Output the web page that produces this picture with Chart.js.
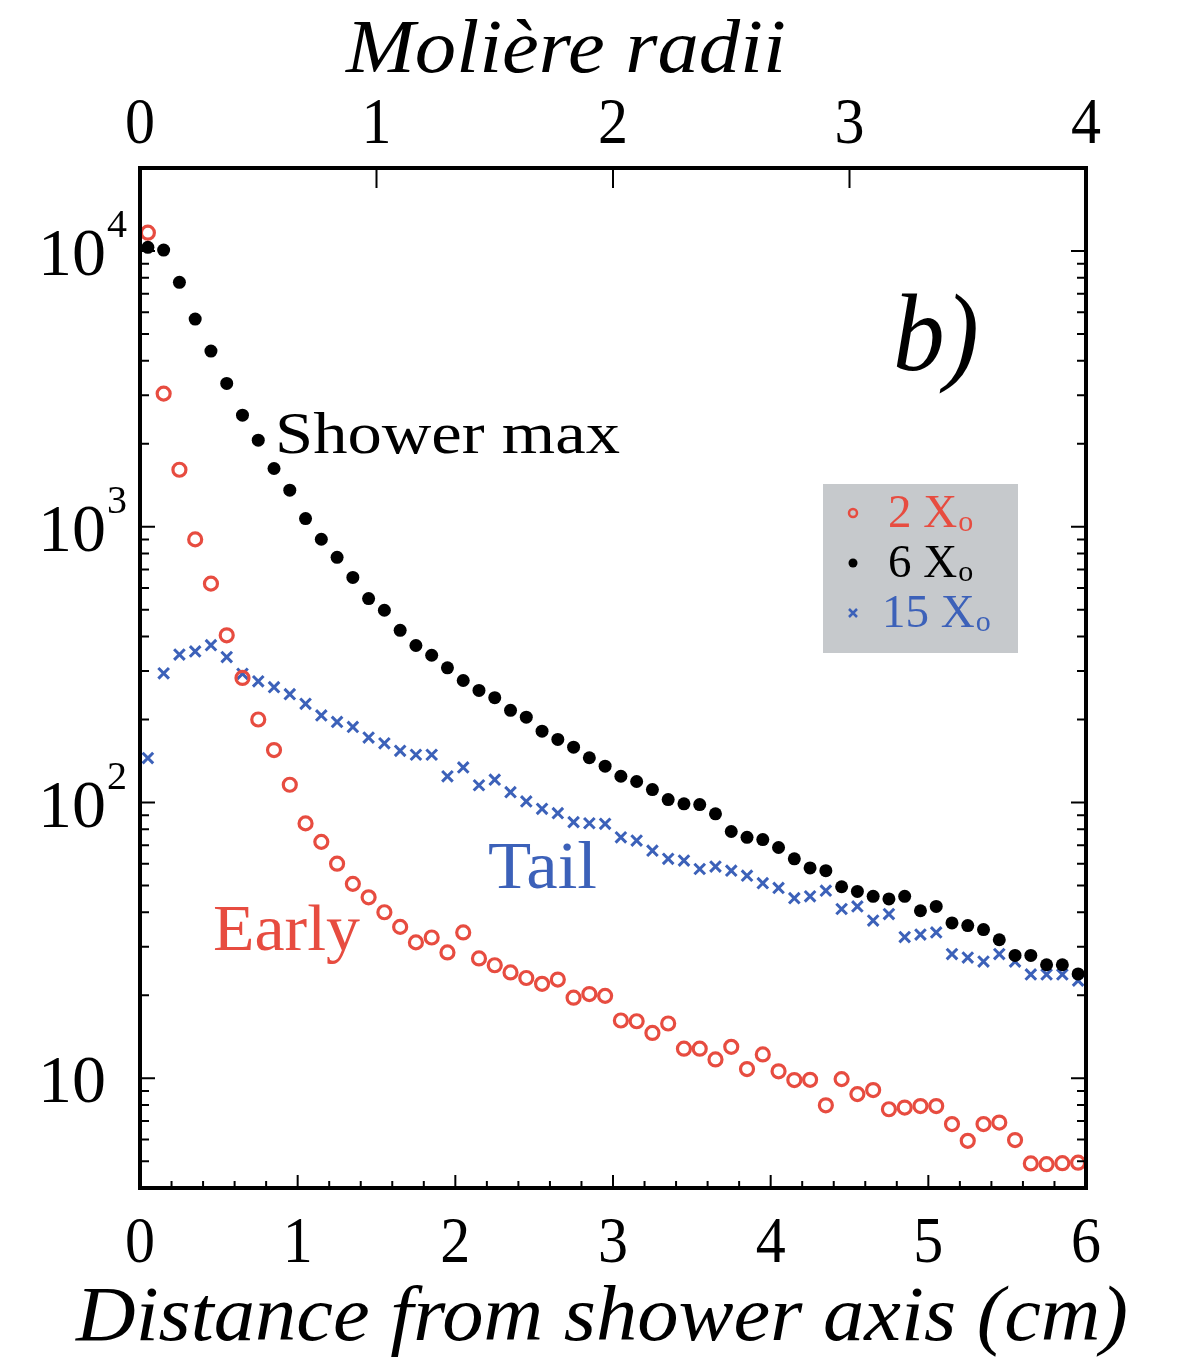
<!DOCTYPE html>
<html>
<head>
<meta charset="utf-8">
<script src="https://cdn.jsdelivr.net/npm/chart.js@4.4.1/dist/chart.umd.min.js"></script>
<style>
  html, body { margin: 0; padding: 0; background: #fff; }
  #wrap { width: 1180px; height: 1359px; }
</style>
</head>
<body>
<div id="wrap"><canvas id="profileChart" width="1180" height="1359"></canvas></div>
<script>
// radial bins (cm from shower axis)
const distanceCm = [
  0.05, 0.15, 0.25, 0.35, 0.45, 0.55, 0.65, 0.75, 0.85, 0.95,
  1.05, 1.15, 1.25, 1.35, 1.45, 1.55, 1.65, 1.75, 1.85, 1.95,
  2.05, 2.15, 2.25, 2.35, 2.45, 2.55, 2.65, 2.75, 2.85, 2.95,
  3.05, 3.15, 3.25, 3.35, 3.45, 3.55, 3.65, 3.75, 3.85, 3.95,
  4.05, 4.15, 4.25, 4.35, 4.45, 4.55, 4.65, 4.75, 4.85, 4.95,
  5.05, 5.15, 5.25, 5.35, 5.45, 5.55, 5.65, 5.75, 5.85, 5.95
];

// 2 X0 ("Early")
const early2X0 = [
  11650, 3040, 1610, 900, 622, 404, 283, 200, 155, 116,
  84, 72, 60, 50.7, 45.3, 40.0, 35.4, 31.1, 32.4, 28.6,
  33.8, 27.2, 25.7, 24.2, 23.1, 22.0, 22.8, 19.6, 20.2, 19.9,
  16.2, 16.1, 14.6, 15.8, 12.8, 12.8, 11.7, 13.0, 10.8, 12.2,
  10.6, 9.85, 9.87, 7.98, 9.93, 8.76, 9.06, 7.72, 7.83, 7.93,
  7.93, 6.82, 5.93, 6.82, 6.91, 5.97, 4.91, 4.88, 4.92, 4.94
];

// 6 X0 ("Shower max")
const showerMax6X0 = [
  10310, 10080, 7700, 5665, 4335, 3310, 2540, 2060, 1627, 1357,
  1071, 901, 775, 655, 549, 498, 421, 371, 342, 308,
  277, 255, 240, 216, 204, 181.5, 169.4, 158.8, 145.3, 135.4,
  124.5, 119.2, 111.4, 102.5, 98.9, 98.3, 91.0, 78.5, 74.8, 73.4,
  68.7, 62.5, 57.9, 56.6, 49.5, 47.6, 45.7, 44.7, 45.7, 40.5,
  42.0, 36.6, 35.8, 34.6, 31.8, 27.9, 27.9, 25.8, 25.8, 23.9
];

// 15 X0 ("Tail")
const tail15X0 = [
  145, 294, 344, 353, 372, 337, 293, 275, 262, 247,
  228, 207, 196, 188, 172, 164, 154, 149, 149, 124.5,
  134, 115.5, 121, 109, 100.9, 94.9, 91.5, 84.9, 84.1, 83.7,
  74.8, 72.8, 66.9, 62.5, 61.6, 57.4, 58.6, 56.6, 54.3, 51.0,
  49, 45, 45.7, 47.9, 41.1, 42.0, 37.3, 39.4, 32.5, 33.2,
  33.8, 28.2, 27.4, 26.5, 28.2, 26.5, 23.8, 23.8, 23.8, 22.6
];

const cmTicks = [0, 1, 2, 3, 4, 5, 6];
const moliereTicks = [0, 1, 2, 3, 4];
const decadeValues = [10, 100, 1000, 10000];
const decadeExponents = ['', '2', '3', '4'];
const legendLabels = ['2 X', '6 X', '15 X'];

const RED = '#e74c40';
const BLUE = '#3c61b9';
const BLACK = '#000';
const SERIF = '"Liberation Serif", "DejaVu Serif", serif';

function toPoints(values) {
  return values.map((v, i) => ({ x: distanceCm[i], y: v }));
}

function fitText(ctx, text, x, y, font, color, width, align) {
  ctx.save();
  ctx.font = font;
  ctx.fillStyle = color;
  ctx.textBaseline = 'alphabetic';
  ctx.textAlign = 'left';
  const w = ctx.measureText(text).width;
  const sx = width ? width / w : 1;
  let left = x;
  if (align === 'center') left = x - w * sx / 2;
  else if (align === 'right') left = x - w * sx;
  ctx.translate(left, y);
  ctx.scale(sx, 1);
  ctx.fillText(text, 0, 0);
  ctx.restore();
}

const framePlugin = {
  id: 'frame',
  afterDraw(chart) {
    const ctx = chart.ctx;
    const a = chart.chartArea;
    const xs = chart.scales.x;
    const xm = chart.scales.x2;
    const ys = chart.scales.y;

    ctx.save();
    ctx.strokeStyle = BLACK;

    // bottom ticks: 0.2 cm minor, 1 cm major
    ctx.lineWidth = 2;
    for (let k = 0; k <= 30; k++) {
      const px = xs.getPixelForValue(k * 0.2);
      const len = (k % 5 === 0) ? 13 : 7;
      ctx.beginPath();
      ctx.moveTo(px, a.bottom);
      ctx.lineTo(px, a.bottom - len);
      ctx.stroke();
    }
    // top ticks: Moliere radii
    moliereTicks.forEach(t => {
      const px = xm.getPixelForValue(t);
      ctx.beginPath();
      ctx.moveTo(px, a.top);
      ctx.lineTo(px, a.top + 20);
      ctx.stroke();
    });
    // log ticks left & right
    for (let e = 0; e <= 4; e++) {
      for (let m = 1; m <= 9; m++) {
        const v = m * Math.pow(10, e);
        if (v < ys.min || v > ys.max) continue;
        const py = ys.getPixelForValue(v);
        const len = m === 1 ? 15 : 9;
        ctx.beginPath();
        ctx.moveTo(a.left, py);
        ctx.lineTo(a.left + len, py);
        ctx.moveTo(a.right, py);
        ctx.lineTo(a.right - len, py);
        ctx.stroke();
      }
    }

    // frame
    ctx.lineWidth = 4;
    ctx.strokeRect(a.left, a.top, a.right - a.left, a.bottom - a.top);
    ctx.restore();

    // bottom tick labels
    cmTicks.forEach(t => {
      fitText(ctx, String(t), xs.getPixelForValue(t), 1262, '66px ' + SERIF, BLACK, 30, 'center');
    });
    // top tick labels
    moliereTicks.forEach(t => {
      fitText(ctx, String(t), xm.getPixelForValue(t), 143, '66px ' + SERIF, BLACK, 30, 'center');
    });
    // y labels
    decadeValues.forEach((v, i) => {
      const py = ys.getPixelForValue(v);
      fitText(ctx, '10', 106, py + 24, '68px ' + SERIF, BLACK, 68, 'right');
      if (decadeExponents[i]) {
        fitText(ctx, decadeExponents[i], 107, py - 14, '40px ' + SERIF, BLACK, null, 'left');
      }
    });

    // axis titles
    fitText(ctx, 'Molière radii', 346, 72, 'italic 76px ' + SERIF, BLACK, 440, 'left');
    fitText(ctx, 'Distance from shower axis (cm)', 76, 1340, 'italic 78px ' + SERIF, BLACK, 1052, 'left');

    // in-plot annotations
    fitText(ctx, 'b)', 893, 370, 'italic 110px ' + SERIF, BLACK, 86, 'left');
    fitText(ctx, 'Shower max', 275, 453, '60px ' + SERIF, BLACK, 345, 'left');
    fitText(ctx, 'Tail', 488, 888, '68px ' + SERIF, BLUE, 109, 'left');
    fitText(ctx, 'Early', 213, 950, '65px ' + SERIF, RED, 147, 'left');

    // legend box
    ctx.save();
    ctx.fillStyle = '#c6c9cc';
    ctx.fillRect(823, 484, 195, 169);
    const rows = [
      { y: 527, color: RED, style: 'ring', tx: 888 },
      { y: 577, color: BLACK, style: 'dot', tx: 888 },
      { y: 627, color: BLUE, style: 'cross', tx: 882 }
    ];
    rows.forEach((r, i) => {
      const my = r.y - 14;
      const mx = 853;
      ctx.strokeStyle = r.color;
      ctx.fillStyle = r.color;
      if (r.style === 'ring') {
        ctx.lineWidth = 2.5;
        ctx.beginPath();
        ctx.arc(mx, my, 4, 0, Math.PI * 2);
        ctx.stroke();
      } else if (r.style === 'dot') {
        ctx.beginPath();
        ctx.arc(mx, my, 4.5, 0, Math.PI * 2);
        ctx.fill();
      } else {
        ctx.lineWidth = 2.5;
        ctx.beginPath();
        ctx.moveTo(mx - 4, my - 4); ctx.lineTo(mx + 4, my + 4);
        ctx.moveTo(mx + 4, my - 4); ctx.lineTo(mx - 4, my + 4);
        ctx.stroke();
      }
      ctx.font = '47px ' + SERIF;
      ctx.textAlign = 'left';
      ctx.textBaseline = 'alphabetic';
      ctx.fillText(legendLabels[i], r.tx, r.y);
      const w = ctx.measureText(legendLabels[i]).width;
      ctx.font = '30px ' + SERIF;
      ctx.fillText('o', r.tx + w + 1, r.y + 4);
    });
    ctx.restore();
  }
};

new Chart(document.getElementById('profileChart').getContext('2d'), {
  type: 'scatter',
  data: {
    datasets: [
      {
        label: '6 X0',
        data: toPoints(showerMax6X0),
        pointStyle: 'circle',
        pointRadius: 6.5,
        pointBorderWidth: 0,
        backgroundColor: BLACK,
        borderColor: BLACK
      },
      {
        label: '2 X0',
        data: toPoints(early2X0),
        pointStyle: 'circle',
        pointRadius: 6.5,
        pointBorderWidth: 3.2,
        backgroundColor: 'rgba(0,0,0,0)',
        borderColor: RED
      },
      {
        label: '15 X0',
        data: toPoints(tail15X0),
        pointStyle: 'crossRot',
        pointRadius: 7.5,
        pointBorderWidth: 3,
        backgroundColor: BLUE,
        borderColor: BLUE
      }
    ]
  },
  options: {
    responsive: false,
    animation: false,
    devicePixelRatio: 1,
    layout: { padding: { left: 140, top: 168, right: 94, bottom: 171 } },
    plugins: { legend: { display: false }, tooltip: { enabled: false } },
    scales: {
      x: { type: 'linear', min: 0, max: 6, display: false },
      x2: { type: 'linear', axis: 'x', min: 0, max: 4, display: false },
      y: { type: 'logarithmic', min: 4, max: 20000, display: false }
    },
    clip: false
  },
  plugins: [framePlugin]
});
</script>
</body>
</html>
